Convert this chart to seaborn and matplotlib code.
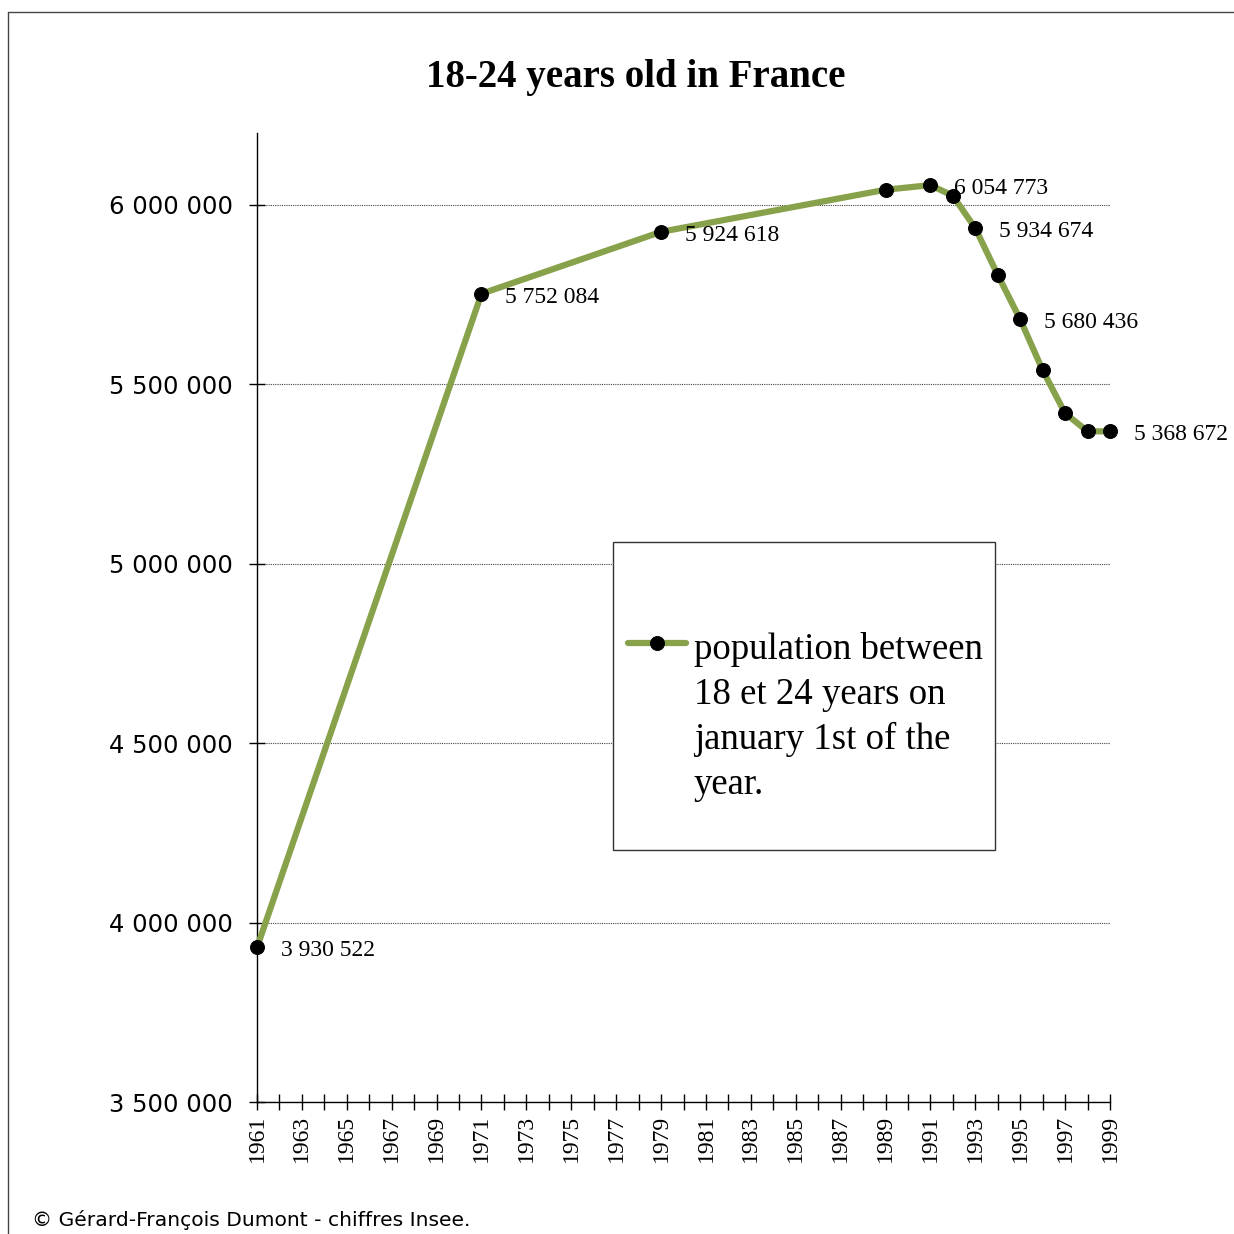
import matplotlib
matplotlib.use("Agg")
import matplotlib.pyplot as plt
from matplotlib.lines import Line2D
from matplotlib.patches import Rectangle
import pandas as pd
import seaborn as sns

# values
years = [1961, 1971, 1979, 1989, 1991, 1992, 1993, 1994, 1995, 1996, 1997, 1998, 1999]
population = [3930522, 5752084, 5924618, 6041900, 6054773, 6025100, 5934674,
              5804500, 5680436, 5539100, 5419000, 5368700, 5368672]
labelled_years = [1961, 1971, 1979, 1991, 1993, 1995, 1999]
y_ticks = [3500000, 4000000, 4500000, 5000000, 5500000, 6000000]
y_tick_labels = ["3 500 000", "4 000 000", "4 500 000", "5 000 000", "5 500 000", "6 000 000"]
x_major = [1961, 1963, 1965, 1967, 1969, 1971, 1973, 1975, 1977, 1979,
           1981, 1983, 1985, 1987, 1989, 1991, 1993, 1995, 1997, 1999]
x_minor = [1962, 1964, 1966, 1968, 1970, 1972, 1974, 1976, 1978, 1980,
           1982, 1984, 1986, 1988, 1990, 1992, 1994, 1996, 1998]

TITLE = "18-24 years old in France"
LEGEND_LABEL = "population between\n18 et 24 years on\njanuary 1st of the\nyear."
SOURCE = "© Gérard-François Dumont - chiffres Insee."
GREEN = "#87A24A"
SERIF = "Liberation Serif"
SANS = "DejaVu Sans"

W = 1234


def fx(px):
    return px / W


def fy(px):
    return 1 - px / W


def main():
    sns.set_style("white")
    plt.rcParams["text.color"] = "black"
    plt.rcParams["xtick.color"] = "black"
    plt.rcParams["ytick.color"] = "black"
    df = pd.DataFrame({"year": years, "population": population})

    fig = plt.figure(figsize=(12.34, 12.34), dpi=100)
    ax = fig.add_axes([fx(257), fy(1102), fx(1110 - 257), (1102 - 133) / W])

    sns.lineplot(data=df, x="year", y="population", ax=ax, color=GREEN, lw=4.5,
                 marker="o", markersize=10, markerfacecolor="black",
                 markeredgecolor="black", label=LEGEND_LABEL, zorder=3, clip_on=False)

    ax.set_xlim(1961, 1999)
    ax.set_ylim(3500000, 6200000)
    ax.set_xlabel("")
    ax.set_ylabel("")

    ax.set_yticks(y_ticks)
    ax.set_yticklabels(y_tick_labels, family=SANS, fontsize=17.5, color="black")
    ax.set_xticks(x_major)
    ax.set_xticklabels([str(y) for y in x_major], family=SERIF, fontsize=17,
                       rotation=90, color="black")
    ax.set_xticks(x_minor, minor=True)
    ax.tick_params(axis="both", which="both", direction="inout", length=11,
                   width=1, color="black", bottom=True, left=True)
    ax.tick_params(axis="y", pad=12)
    ax.tick_params(axis="x", pad=4)

    ax.set_axisbelow(True)
    ax.yaxis.grid(True, ls=(0, (1, 1)), color="#444444", lw=0.8)
    for s in ["top", "right"]:
        ax.spines[s].set_visible(False)
    for s in ["left", "bottom"]:
        ax.spines[s].set_color("black")
        ax.spines[s].set_linewidth(1)

    for yr, val in zip(years, population):
        if yr in labelled_years:
            ax.annotate(f"{val:,}".replace(",", " "), (yr, val), xytext=(17, -2.5),
                        textcoords="offset points", va="center", ha="left",
                        family=SERIF, fontsize=17, annotation_clip=False, zorder=4)

    # legend box
    box = Rectangle((fx(613), fy(850)), fx(995 - 613), (850 - 542) / W,
                    transform=fig.transFigure, facecolor="white", edgecolor="#333333",
                    lw=1, zorder=2, clip_on=False)
    ax.add_patch(box)
    handles, labels = ax.get_legend_handles_labels()
    leg = ax.legend(handles, labels, loc="upper left",
                    bbox_to_anchor=(fx(628), fy(632)), bbox_transform=fig.transFigure,
                    frameon=False, borderpad=0, borderaxespad=0, handlelength=1.57,
                    handletextpad=0.22, handleheight=0.3,
                    prop={"family": SERIF, "size": 26.5})
    leg.set_zorder(5)
    leg.texts[0].set_linespacing(1.38)
    # put the legend marker on the first text line
    leg._legend_handle_box.get_children()[0].get_children()[0].align = "top"

    fig.text(fx(636), fy(78), TITLE, ha="center", va="center", family=SERIF,
             fontweight="bold", fontsize=28)
    fig.text(fx(32), fy(1220), SOURCE, ha="left", va="center", family=SANS, fontsize=14.6)

    # outer frame (top and left)
    fig.add_artist(Line2D([fx(8), 1], [fy(12), fy(12)], transform=fig.transFigure,
                          color="#444444", lw=1))
    fig.add_artist(Line2D([fx(8), fx(8)], [fy(12), 0], transform=fig.transFigure,
                          color="#444444", lw=1))

    fig.savefig("out.png", dpi=100)
    plt.close(fig)


if __name__ == "__main__":
    main()
